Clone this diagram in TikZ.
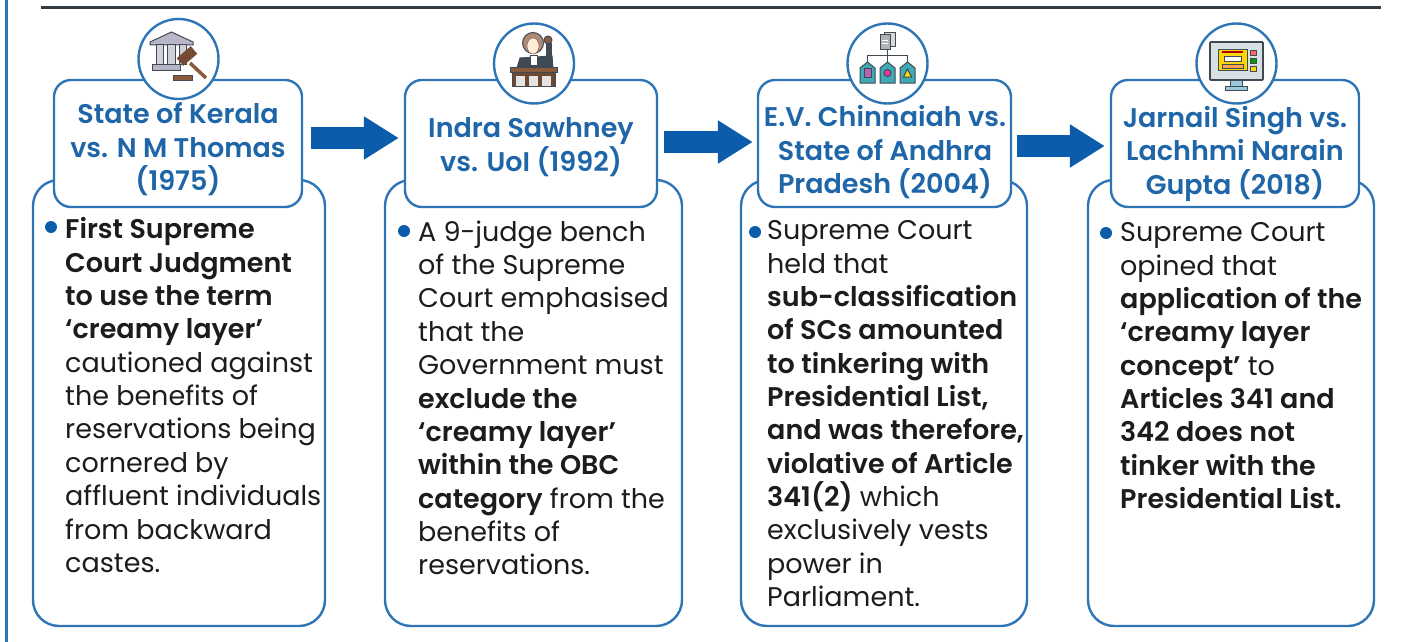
\documentclass[tikz,border=0pt]{standalone}
\usepackage{fontspec}
\setmainfont{Poppins}[BoldFont={Poppins SemiBold}]
\usepackage{xcolor}
\usepackage{tikz}
\usetikzlibrary{positioning}
\usetikzlibrary{arrows.meta}
\usetikzlibrary{calc}

\definecolor{edgeblue}{HTML}{2E75B6}
\definecolor{headblue}{HTML}{1F66A8}
\definecolor{flowblue}{HTML}{0B5CAB}
\definecolor{bodyink}{HTML}{1C1C1C}
\definecolor{slate}{HTML}{3F4A55}
\definecolor{stone}{HTML}{9A97AE}
\definecolor{gavel}{HTML}{8A5A3C}
\definecolor{teal}{HTML}{3FA9B5}

\tikzset{
	bodybox/.style={draw=edgeblue, line width=2.4pt, rounded corners=26pt, fill=white, inner sep=0},
	headbox/.style={draw=edgeblue, line width=2.4pt, rounded corners=17pt, fill=white, inner sep=0},
	title/.style={inner sep=0, text=headblue, align=center, font=\fontsize{27}{33.5}\selectfont\bfseries},
	seal/.style={draw=edgeblue, line width=2.4pt, circle, fill=white, inner sep=0, minimum size=80pt},
	para/.style={anchor=north west, inner sep=0, text=bodyink, align=left, font=\fontsize{27}{33.35}\selectfont},
	dot/.style={circle, fill=flowblue, inner sep=0, minimum size=12pt},
	flow/.style={line width=22pt, color=flowblue, -{Triangle[length=35pt,width=41pt]}},
	icon/.style={draw=slate, line width=1pt}
}

\begin{document}
\begin{tikzpicture}[x=1pt,y=-1pt]
\useasboundingbox (0,0) rectangle (1405,642);

% frame bits
\coordinate (ruleL) at (41,8);
\coordinate (ruleR) at (1381,8);
\coordinate (sideT) at (6,0);
\coordinate (sideB) at (6,642);
\draw[line width=3pt, color=slate!80!black] (ruleL) -- (ruleR);
\draw[line width=3pt, color=edgeblue] (sideT) -- (sideB);

% lower boxes
\node[bodybox, minimum width=292pt, minimum height=446pt] (body1) at (179,403) {};
\node[bodybox, minimum width=297pt, minimum height=446pt] (body2) at (533.5,403) {};
\node[bodybox, minimum width=286pt, minimum height=446pt] (body3) at (884,403) {};
\node[bodybox, minimum width=286pt, minimum height=446pt] (body4) at (1231,403) {};

% upper boxes
\node[headbox, minimum width=248pt, minimum height=127pt] (head1) at (178,143.5) {};
\node[headbox, minimum width=252pt, minimum height=127pt] (head2) at (531,143.5) {};
\node[headbox, minimum width=253pt, minimum height=127pt] (head3) at (884.5,143.5) {};
\node[headbox, minimum width=248pt, minimum height=127pt] (head4) at (1235,143.5) {};

% circles on top
\node[seal] (seal1) at (178.5,59) {};
\node[seal] (seal2) at (534,63.5) {};
\node[seal] (seal3) at (887.5,63.5) {};
\node[seal] (seal4) at (1236.5,63.5) {};

\node[title] (title1) at ($(head1)+(0,6)$) {State of Kerala\\vs. N M Thomas\\(1975)};
\node[title] (title2) at ($(head2)+(0,3.5)$) {Indra Sawhney\\vs. UoI (1992)};
\node[title] (title3) at ($(head3)+(0.5,9)$) {E.V. Chinnaiah vs.\\State of Andhra\\Pradesh (2004)};
\node[title] (title4) at ($(head4)+(0,10)$) {Jarnail Singh vs.\\Lachhmi Narain\\Gupta (2018)};

% arrows
\draw[flow] ($(head1.east)+(8,-5.5)$) -- ($(head2.west)+(-5,-5.5)$);
\draw[flow] ($(head2.east)+(6,-1.5)$) -- ($(head3.west)+(-4,-1.5)$);
\draw[flow] ($(head3.east)+(5,2.5)$) -- ($(head4.west)+(-5,2.5)$);

% text
\node[dot] (dot1) at (51,227) {};
\node[dot] (dot2) at (404,231) {};
\node[dot] (dot3) at (755,232) {};
\node[dot] (dot4) at (1106,233) {};

\node[para] (text1) at (65,217.5) {\textbf{First Supreme}\\\textbf{Court Judgment}\\\textbf{to use the term}\\\textbf{‘creamy layer’}\\cautioned against\\the benefits of\\reservations being\\cornered by\\affluent individuals\\from backward\\castes.};
\node[para] (text2) at (418,220.5) {A 9-judge bench\\of the Supreme\\Court emphasised\\that the\\Government must\\\textbf{exclude the}\\\textbf{‘creamy layer’}\\\textbf{within the OBC}\\\textbf{category} from the\\benefits of\\reservations.};
\node[para] (text3) at (767,220.5) {Supreme Court\\held that\\\textbf{sub-classification}\\\textbf{of SCs amounted}\\\textbf{to tinkering with}\\\textbf{Presidential List,}\\\textbf{and was therefore,}\\\textbf{violative of Article}\\\textbf{341(2)} which\\exclusively vests\\power in\\Parliament.};
\node[para] (text4) at (1120,222.5) {Supreme Court\\opined that\\\textbf{application of the}\\\textbf{‘creamy layer}\\\textbf{concept’} to\\\textbf{Articles 341 and}\\\textbf{342 does not}\\\textbf{tinker with the}\\\textbf{Presidential List.}};

% court icon
\draw[icon, fill=stone!70] (150,42) -- (171.5,32) -- (193,42) -- (193,45) -- (150,45) -- cycle;
\draw[icon, fill=stone!45] (156,45) rectangle (163,65);
\draw[icon, fill=stone!45] (167,45) rectangle (175,65);
\draw[icon, fill=stone!45] (179,45) rectangle (186,65);
\draw[icon, fill=stone!70] (152,65) rectangle (180,71);
\draw[line width=3.5pt, color=gavel] (190,63) -- (206,78);
\draw[line width=10pt, color=gavel!85!black] (180,62) -- (194,50);
\draw[icon, fill=gavel] (173,75) rectangle (192,80);

% judge icon
\draw[icon, fill=slate] (517,68) -- (520,58) -- (552,56) -- (553,68) -- cycle;
\draw[icon, fill=gavel!70] (533,43) circle (10.5);
\draw[draw=gavel, fill=orange!15] (533,46) ellipse (6 and 8);
\draw[icon, fill=white] (530,56) rectangle (537,66);
\draw[icon, fill=gavel] (548,40) circle (4);
\draw[icon, fill=slate] (546,44) rectangle (551,58);
\draw[icon, fill=gavel] (510,68) rectangle (557,73);
\draw[icon, fill=gavel!80!black] (512,73) rectangle (555,86);
\draw[fill=gray!20, draw=none] (516,76) rectangle (525,86);
\draw[fill=gray!20, draw=none] (529,76) rectangle (538,86);
\draw[fill=gray!20, draw=none] (542,76) rectangle (551,86);

% tree icon
\draw[icon, fill=gray!30] (884,33) rectangle (895,47);
\draw[icon, fill=gray!60] (880,35) rectangle (890,50);
\draw[line width=1pt, color=white] (882,41) -- (888,41) (882,44) -- (888,44);
\draw[icon] (887,50) -- (887,63) (867,63) -- (867,55.5) -- (907,55.5) -- (907,63);
\draw[icon, fill=teal] (860,83) -- (860,68) -- (867.5,62) -- (875,68) -- (875,83) -- cycle;
\draw[icon, fill=teal] (880,83) -- (880,68) -- (887.5,62) -- (895,68) -- (895,83) -- cycle;
\draw[icon, fill=teal] (900,83) -- (900,68) -- (907.5,62) -- (915,68) -- (915,83) -- cycle;
\draw[icon, fill=violet!60] (864,69) rectangle (871,77);
\draw[icon, fill=magenta!80] (887.5,73) circle (3.5);
\draw[icon, fill=yellow!80!orange] (903.5,77) -- (907.5,69) -- (911.5,77) -- cycle;

% screen icon
\draw[icon, fill=cyan!50!gray!60] (1230,80) rectangle (1242,86);
\draw[icon, fill=cyan!50!gray!60] (1225,86) rectangle (1247,90);
\draw[line width=1.8pt, draw=slate, fill=cyan!20!gray!30, rounded corners=1pt] (1210,42) rectangle (1263,80);
\draw[icon, fill=yellow!75!orange] (1218,50) rectangle (1247,71);
\draw[fill=red!70!black, draw=none] (1222,51) rectangle (1243,53.5);
\draw[icon, fill=white] (1224,57) rectangle (1241,62);
\draw[icon, fill=orange!70] (1222,65) rectangle (1243,69);
\draw[icon, fill=red!60] (1250.5,51) rectangle (1256,56);
\draw[icon, fill=green!60!black] (1250.5,59) rectangle (1256,64);
\draw[icon, fill=yellow!75!orange] (1250.5,67) rectangle (1256,72);
\end{tikzpicture}
\end{document}
